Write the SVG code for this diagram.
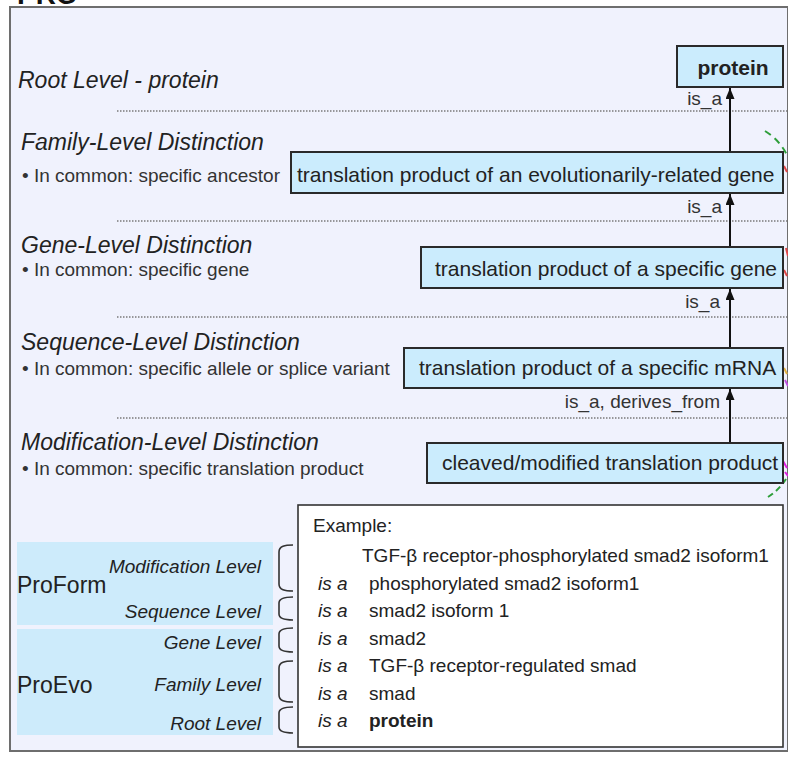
<svg xmlns="http://www.w3.org/2000/svg" width="788" height="757" viewBox="0 0 788 757">
  <style>
    text { font-family: "Liberation Sans", Arial, sans-serif; fill: #222; }
    .frame { fill: #F0F2FD; stroke: #6e6e6e; stroke-width: 2; }
    .node rect { fill: #CBECFD; stroke: #2a2a2a; stroke-width: 2; }
    .node text { font-size: 21px; }
    .head { font-size: 23px; font-style: italic; }
    .bullet { font-size: 19px; fill: #333; }
    .dots { stroke: #7a7a7a; stroke-width: 1.5; stroke-dasharray: 1.5 1.5; fill: none; }
    .edge { stroke: #111; stroke-width: 2; fill: none; marker-end: url(#head); }
    .lbl { font-size: 19px; fill: #333; text-anchor: end; }
    .band { fill: #CDEBFB; }
    .lvl { font-size: 19px; font-style: italic; text-anchor: end; }
    .grp { font-size: 23px; }
    .brace { stroke: #333; stroke-width: 1.6; fill: none; }
    .ex { font-size: 19px; }
    .isa { font-size: 19px; font-style: italic; }
    .stub { fill: none; stroke-width: 2; }
  </style>
  <defs>
    <marker id="head" markerUnits="userSpaceOnUse" markerWidth="11" markerHeight="9" viewBox="0 0 11 9" refX="11" refY="4.5" orient="auto">
      <path d="M0,0 L11,4.5 L0,9 Z" fill="#111"/>
    </marker>
  </defs>

  <!-- heading, cut at the top edge -->
  <text x="17" y="4" style="font-size:28px;font-weight:bold;fill:#111">PRO</text>

  <!-- outer panel -->
  <rect class="frame" x="10" y="7" width="778" height="744"/>

  <!-- level descriptions -->
  <g id="level-text">
    <text class="head" x="18" y="88">Root Level - protein</text>
    <text class="head" x="21" y="150">Family-Level Distinction</text>
    <text class="bullet" x="22" y="182">• In common: specific ancestor</text>
    <text class="head" x="21" y="253">Gene-Level Distinction</text>
    <text class="bullet" x="22" y="276">• In common: specific gene</text>
    <text class="head" x="21" y="350">Sequence-Level Distinction</text>
    <text class="bullet" x="22" y="375">• In common: specific allele or splice variant</text>
    <text class="head" x="21" y="450">Modification-Level Distinction</text>
    <text class="bullet" x="22" y="475">• In common: specific translation product</text>
  </g>

  <!-- level separators -->
  <g id="separators">
    <line class="dots" x1="117" y1="111" x2="787" y2="111"/>
    <line class="dots" x1="117" y1="221" x2="787" y2="221"/>
    <line class="dots" x1="117" y1="317" x2="787" y2="317"/>
    <line class="dots" x1="117" y1="418" x2="787" y2="418"/>
  </g>

  <!-- links continuing beyond the right edge -->
  <g id="offpage-links">
    <path class="stub" d="M765,131 Q780,140 788,157" stroke="#2e9e3a" stroke-dasharray="7 5"/>
    <path class="stub" d="M784,166 L787,172" stroke="#e04848"/>
    <path class="stub" d="M786,248 L788,256" stroke="#e04848"/>
    <path class="stub" d="M784,270 L787,276" stroke="#e04848"/>
    <path class="stub" d="M784,368 L787,374" stroke="#e0b040"/>
    <path class="stub" d="M785,380 L788,386" stroke="#c050e0"/>
    <path class="stub" d="M783,461 L787,468" stroke="#e020e0" stroke-width="3"/>
    <path class="stub" d="M785,472 L788,476" stroke="#e020e0" stroke-width="3"/>
    <path class="stub" d="M768,497 Q779,490 786,479" stroke="#2e9e3a" stroke-dasharray="6 4"/>
  </g>

  <!-- is_a chain -->
  <g id="connectors">
    <line class="edge" x1="730" y1="152" x2="730" y2="88"/>
    <line class="edge" x1="730" y1="247" x2="730" y2="194"/>
    <line class="edge" x1="730" y1="348" x2="730" y2="289"/>
    <line class="edge" x1="730" y1="443" x2="730" y2="389"/>
    <text class="lbl" x="722" y="105">is_a</text>
    <text class="lbl" x="722" y="213">is_a</text>
    <text class="lbl" x="720" y="308">is_a</text>
    <text class="lbl" x="720" y="408">is_a, derives_from</text>
  </g>

  <g id="protein" class="node">
    <rect x="677" y="46" width="106" height="41"/>
    <text x="733" y="75" text-anchor="middle" style="font-weight:bold">protein</text>
  </g>
  <g id="family" class="node">
    <rect x="291" y="152" width="492" height="41"/>
    <text x="297" y="182">translation product of an evolutionarily-related gene</text>
  </g>
  <g id="gene" class="node">
    <rect x="421" y="247" width="362" height="41"/>
    <text x="435" y="276">translation product of a specific gene</text>
  </g>
  <g id="mrna" class="node">
    <rect x="404" y="348" width="379" height="40"/>
    <text x="419" y="375">translation product of a specific mRNA</text>
  </g>
  <g id="modified" class="node">
    <rect x="427" y="443" width="356" height="40"/>
    <text x="442" y="470">cleaved/modified translation product</text>
  </g>

  <!-- legend: ProForm / ProEvo bands -->
  <g id="legend">
    <rect class="band" x="17" y="542" width="256" height="83"/>
    <rect class="band" x="17" y="629" width="256" height="106"/>
    <text class="grp" x="17" y="593">ProForm</text>
    <text class="grp" x="17" y="693">ProEvo</text>
    <text class="lvl" x="261" y="573">Modification Level</text>
    <text class="lvl" x="261" y="618">Sequence Level</text>
    <text class="lvl" x="261" y="649">Gene Level</text>
    <text class="lvl" x="261" y="691">Family Level</text>
    <text class="lvl" x="261" y="730">Root Level</text>
    <path class="brace" d="M293,545 C285,545 279,546 279,552 L279,584 C279,590 285,591 293,591"/>
    <path class="brace" d="M293,597 C285,597 279,598 279,603 L279,614 C279,619 285,620 293,620"/>
    <path class="brace" d="M293,628 C285,628 279,629 279,634 L279,646 C279,651 285,652 293,652"/>
    <path class="brace" d="M293,661 C285,661 279,662 279,668 L279,695 C279,701 285,702 293,702"/>
    <path class="brace" d="M293,707 C285,707 279,708 279,713 L279,727 C279,732 285,733 293,733"/>
  </g>

  <!-- worked example -->
  <g id="example">
    <rect x="298" y="505" width="485" height="242" fill="#fff" stroke="#333" stroke-width="1.6"/>
    <text class="ex" x="313" y="532">Example:</text>
    <text class="ex" x="362" y="562">TGF-β receptor-phosphorylated smad2 isoform1</text>
    <text class="isa" x="318" y="590">is a</text>
    <text class="ex" x="369" y="590">phosphorylated smad2 isoform1</text>
    <text class="isa" x="318" y="617">is a</text>
    <text class="ex" x="369" y="617">smad2 isoform 1</text>
    <text class="isa" x="318" y="645">is a</text>
    <text class="ex" x="369" y="645">smad2</text>
    <text class="isa" x="318" y="672">is a</text>
    <text class="ex" x="369" y="672">TGF-β receptor-regulated smad</text>
    <text class="isa" x="318" y="700">is a</text>
    <text class="ex" x="369" y="700">smad</text>
    <text class="isa" x="318" y="727">is a</text>
    <text class="ex" x="369" y="727" style="font-weight:bold">protein</text>
  </g>
</svg>
